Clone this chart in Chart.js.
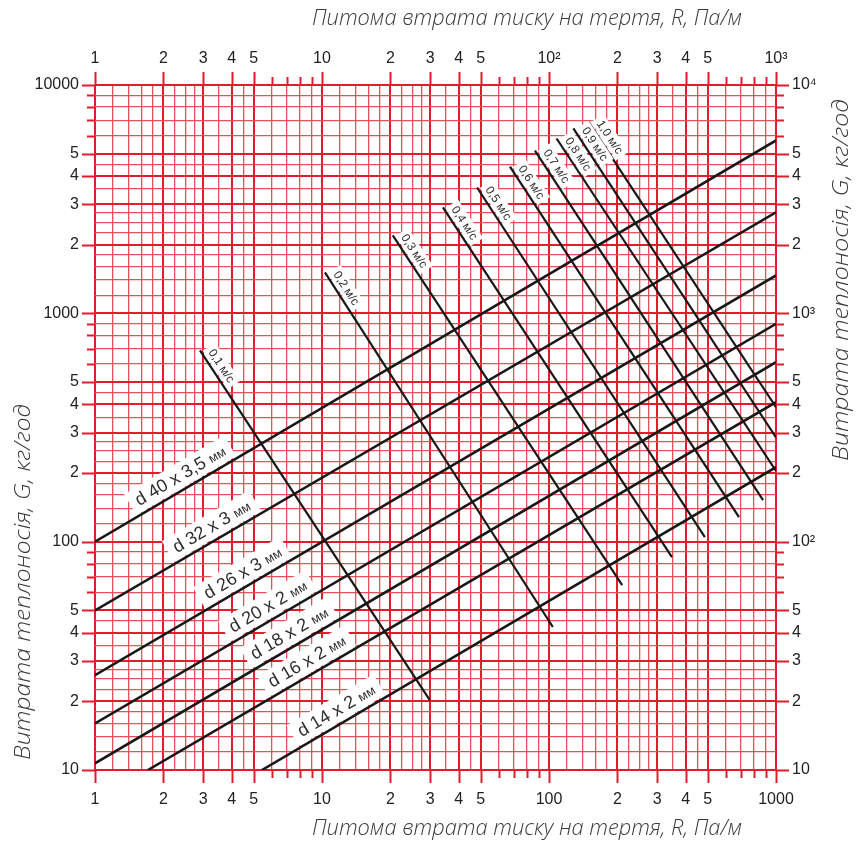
<!DOCTYPE html>
<html>
<head>
<meta charset="utf-8">
<script src="https://cdn.jsdelivr.net/npm/chart.js@4.4.1/dist/chart.umd.min.js"></script>
<style>
  html, body { margin: 0; padding: 0; background: #fff; }
  #wrap { width: 858px; height: 848px; }
</style>
</head>
<body>
<div id="wrap"><canvas id="nomogram" width="858" height="848"></canvas></div>
<script>
// Номограма: питома втрата тиску R (Па/м) vs витрата G (кг/год), log-log

// tick labels
const xTickValues = [1, 2, 3, 4, 5, 10, 20, 30, 40, 50, 100, 200, 300, 400, 500, 1000];
const xBottomLabels = ['1', '2', '3', '4', '5', '10', '2', '3', '4', '5', '100', '2', '3', '4', '5', '1000'];
const xTopLabels = ['1', '2', '3', '4', '5', '10', '2', '3', '4', '5', '10²', '2', '3', '4', '5', '10³'];
const yTickValues = [10, 20, 30, 40, 50, 100, 200, 300, 400, 500, 1000, 2000, 3000, 4000, 5000, 10000];
const yLeftLabels = ['10', '2', '3', '4', '5', '100', '2', '3', '4', '5', '1000', '2', '3', '4', '5', '10000'];
const yRightLabels = ['10', '2', '3', '4', '5', '10²', '2', '3', '4', '5', '10³', '2', '3', '4', '5', '10⁴'];

// grid subdivisions inside one decade
const gridMantissas = [1, 1.2, 1.4, 1.6, 1.8, 2, 2.25, 2.5, 2.75, 3, 3.5, 4, 4.5, 5, 6, 7, 8, 9];

// pipe lines (rising)
const pipeNames = ['d 40 x 3,5 мм', 'd 32 x 3 мм', 'd 26 x 3 мм', 'd 20 x 2 мм', 'd 18 x 2 мм', 'd 16 x 2 мм', 'd 14 x 2 мм'];
const pipeStartR = [1, 1, 1, 1, 1, 1.71, 5.44];
const pipeStartG = [100, 50, 26, 16, 10.7, 10, 10];
const pipeEndR = [1000, 1000, 1000, 1000, 1000, 1000, 1000];
const pipeEndG = [5720, 2770, 1466, 900, 611, 408, 212];
const pipeLabelR = [2.55, 3.5, 4.8, 6.2, 7.7, 9.2, 12.4];

// velocity lines (falling)
const speedNames = ['0,1 м/с', '0,2 м/с', '0,3 м/с', '0,4 м/с', '0,5 м/с', '0,6 м/с', '0,7 м/с', '0,8 м/с', '0,9 м/с', '1,0 м/с'];
const speedStartR = [2.9, 10.3, 20.5, 34.1, 48.2, 67.3, 86.7, 108, 128, 149];
const speedStartG = [689, 1511, 2195, 2910, 3557, 4395, 5164, 5830, 6456, 6918];
const speedEndR = [29.9, 104, 210, 348, 486, 687, 877, 1000, 1000, 1000];
const speedEndG = [20.2, 42.3, 64.5, 85.5, 104.6, 128, 152, 204, 286, 388];

const RED_MAJOR = 'rgb(226, 28, 44)';
const RED_MINOR = 'rgb(238, 78, 90)';
const INK = '#181818';

function mantissa(v) {
  const e = Math.floor(Math.log10(v) + 1e-9);
  return Math.round(v / Math.pow(10, e) * 100) / 100;
}
function isMajor(v) { return [1, 2, 3, 4, 5].includes(mantissa(v)); }

function gridValues(min, max) {
  const out = [];
  for (let d = min; d < max; d *= 10) {
    gridMantissas.forEach(m => out.push(Math.round(m * d * 1000) / 1000));
  }
  out.push(max);
  return out;
}
const xGrid = gridValues(1, 1000);
const yGrid = gridValues(10, 10000);

function labelFor(values, labels) {
  return (v) => {
    const i = values.findIndex(t => Math.abs(t - v) < 1e-6 * t);
    return i >= 0 ? labels[i] : '';
  };
}

const datasets = [];
pipeNames.forEach((name, i) => {
  datasets.push({
    label: name,
    data: [{ x: pipeStartR[i], y: pipeStartG[i] }, { x: pipeEndR[i], y: pipeEndG[i] }],
    borderColor: INK, borderWidth: 2.6, pointRadius: 0, showLine: true
  });
});
speedNames.forEach((name, i) => {
  datasets.push({
    label: name,
    data: [{ x: speedStartR[i], y: speedStartG[i] }, { x: speedEndR[i], y: speedEndG[i] }],
    borderColor: INK, borderWidth: 2.2, pointRadius: 0, showLine: true
  });
});

function logLine(r0, g0, r1, g1, r) {
  const t = (Math.log10(r) - Math.log10(r0)) / (Math.log10(r1) - Math.log10(r0));
  return Math.pow(10, Math.log10(g0) + t * (Math.log10(g1) - Math.log10(g0)));
}

// white-boxed text along the lines
const lineLabels = {
  id: 'lineLabels',
  afterDatasetsDraw(chart) {
    const ctx = chart.ctx;
    const sx = chart.scales.x, sy = chart.scales.y;
    ctx.save();
    ctx.textBaseline = 'middle';
    pipeNames.forEach((name, i) => {
      const x0 = sx.getPixelForValue(pipeStartR[i]), y0 = sy.getPixelForValue(pipeStartG[i]);
      const x1 = sx.getPixelForValue(pipeEndR[i]), y1 = sy.getPixelForValue(pipeEndG[i]);
      const ang = Math.atan2(y1 - y0, x1 - x0);
      const g = logLine(pipeStartR[i], pipeStartG[i], pipeEndR[i], pipeEndG[i], pipeLabelR[i]);
      const px = sx.getPixelForValue(pipeLabelR[i]), py = sy.getPixelForValue(g);
      const cut = name.lastIndexOf(' ');
      const main = name.slice(0, cut + 1), unit = name.slice(cut + 1);
      ctx.save();
      ctx.translate(px, py);
      ctx.rotate(ang);
      ctx.font = '18px "Liberation Sans", Arial, sans-serif';
      const w1 = ctx.measureText(main).width;
      ctx.font = '13px "Liberation Sans", Arial, sans-serif';
      const w2 = ctx.measureText(unit).width;
      const w = w1 + w2;
      ctx.fillStyle = '#fff';
      ctx.fillRect(-w / 2 - 7, -26, w + 14, 24);
      ctx.fillStyle = '#2e2e2e';
      ctx.textAlign = 'left';
      ctx.font = '18px "Liberation Sans", Arial, sans-serif';
      ctx.fillText(main, -w / 2, -13);
      ctx.font = '13px "Liberation Sans", Arial, sans-serif';
      ctx.fillText(unit, -w / 2 + w1, -12);
      ctx.restore();
    });
    speedNames.forEach((name, i) => {
      const x0 = sx.getPixelForValue(speedStartR[i]), y0 = sy.getPixelForValue(speedStartG[i]);
      const x1 = sx.getPixelForValue(speedEndR[i]), y1 = sy.getPixelForValue(speedEndG[i]);
      const ang = Math.atan2(y1 - y0, x1 - x0);
      ctx.save();
      ctx.translate(x0, y0);
      ctx.rotate(ang);
      ctx.font = '12px "Liberation Sans", Arial, sans-serif';
      const w = ctx.measureText(name).width;
      ctx.fillStyle = '#fff';
      ctx.fillRect(2, -17, w + 8, 15);
      ctx.fillStyle = '#2e2e2e';
      ctx.textAlign = 'left';
      ctx.fillText(name, 6, -9);
      ctx.restore();
    });
    ctx.restore();
  }
};

// outer tick marks on all four sides
const tickMarks = {
  id: 'tickMarks',
  afterDraw(chart) {
    const ctx = chart.ctx;
    const a = chart.chartArea;
    const sx = chart.scales.x, sy = chart.scales.y;
    ctx.save();
    ctx.strokeStyle = RED_MAJOR;
    ctx.lineWidth = 2;
    const len = (v) => isMajor(v) ? 13 : ([6, 7, 8, 9].includes(mantissa(v)) ? 8 : 0);
    xGrid.forEach(v => {
      const l = len(v);
      if (!l) return;
      const p = Math.round(sx.getPixelForValue(v)) + 0.5;
      ctx.beginPath();
      ctx.moveTo(p, a.top - l); ctx.lineTo(p, a.top);
      ctx.moveTo(p, a.bottom); ctx.lineTo(p, a.bottom + l);
      ctx.stroke();
    });
    yGrid.forEach(v => {
      const l = len(v);
      if (!l) return;
      const p = Math.round(sy.getPixelForValue(v)) + 0.5;
      ctx.beginPath();
      ctx.moveTo(a.left - l, p); ctx.lineTo(a.left, p);
      ctx.moveTo(a.right, p); ctx.lineTo(a.right + l, p);
      ctx.stroke();
    });
    ctx.restore();
  }
};

// axis titles in a thin italic drafting style
const axisTitles = {
  id: 'axisTitles',
  afterDraw(chart) {
    const ctx = chart.ctx;
    const xTitle = 'Питома втрата тиску на тертя, R, Па/м';
    const yTitle = 'Витрата теплоносія, G, кг/год';
    const put = (text, cx, cy, rot, width) => {
      ctx.save();
      ctx.translate(cx, cy);
      ctx.rotate(rot);
      ctx.font = 'italic 300 22px "Open Sans", "DejaVu Sans", sans-serif';
      const k = width / ctx.measureText(text).width;
      ctx.scale(k, 1);
      ctx.fillStyle = '#3a3a3a';
      ctx.textAlign = 'center';
      ctx.textBaseline = 'middle';
      ctx.fillText(text, 0, 0);
      ctx.restore();
    };
    put(xTitle, 527, 19, 0, 430);
    put(xTitle, 527, 829, 0, 430);
    put(yTitle, 24, 582, -Math.PI / 2, 356);
    put(yTitle, 842, 280, -Math.PI / 2, 362);
  }
};

const bg = {
  id: 'bg',
  beforeDraw(chart) {
    const ctx = chart.ctx;
    ctx.save();
    ctx.fillStyle = '#fff';
    ctx.fillRect(0, 0, chart.width, chart.height);
    ctx.restore();
  }
};

const tickFont = { family: '"Liberation Sans", Arial, sans-serif', size: 16 };

new Chart(document.getElementById('nomogram'), {
  type: 'scatter',
  data: { datasets },
  options: {
    responsive: false,
    animation: false,
    layout: { padding: 0 },
    plugins: { legend: { display: false }, tooltip: { enabled: false } },
    scales: {
      x: {
        type: 'logarithmic', position: 'bottom', min: 1, max: 1000,
        afterBuildTicks: s => { s.ticks = xGrid.map(v => ({ value: v })); },
        afterFit: s => { s.height = 78; },
        ticks: { autoSkip: false, maxRotation: 0, padding: 20, color: '#222', font: tickFont,
                 callback: labelFor(xTickValues, xBottomLabels) },
        grid: { drawTicks: false,
                color: c => isMajor(c.tick.value) ? RED_MAJOR : RED_MINOR,
                lineWidth: c => isMajor(c.tick.value) ? 2 : 1.3 },
        border: { display: false }
      },
      x2: {
        type: 'logarithmic', position: 'top', min: 1, max: 1000, display: true,
        afterBuildTicks: s => { s.ticks = xTickValues.map(v => ({ value: v })); },
        afterFit: s => { s.height = 85; },
        ticks: { autoSkip: false, maxRotation: 0, padding: 17, color: '#222', font: tickFont,
                 callback: labelFor(xTickValues, xTopLabels) },
        grid: { display: false, drawTicks: false },
        border: { display: false }
      },
      y: {
        type: 'logarithmic', position: 'left', min: 10, max: 10000,
        afterBuildTicks: s => { s.ticks = yGrid.map(v => ({ value: v })); },
        afterFit: s => { s.width = 95; },
        ticks: { autoSkip: false, padding: 16, color: '#222', font: tickFont,
                 callback: labelFor(yTickValues, yLeftLabels) },
        grid: { drawTicks: false,
                color: c => isMajor(c.tick.value) ? RED_MAJOR : RED_MINOR,
                lineWidth: c => isMajor(c.tick.value) ? 2 : 1.3 },
        border: { display: false }
      },
      y2: {
        type: 'logarithmic', position: 'right', min: 10, max: 10000, display: true,
        afterBuildTicks: s => { s.ticks = yTickValues.map(v => ({ value: v })); },
        afterFit: s => { s.width = 82; },
        ticks: { autoSkip: false, padding: 16, color: '#222', font: tickFont,
                 callback: labelFor(yTickValues, yRightLabels) },
        grid: { display: false, drawTicks: false },
        border: { display: false }
      }
    }
  },
  plugins: [bg, lineLabels, tickMarks, axisTitles]
});
</script>
</body>
</html>
